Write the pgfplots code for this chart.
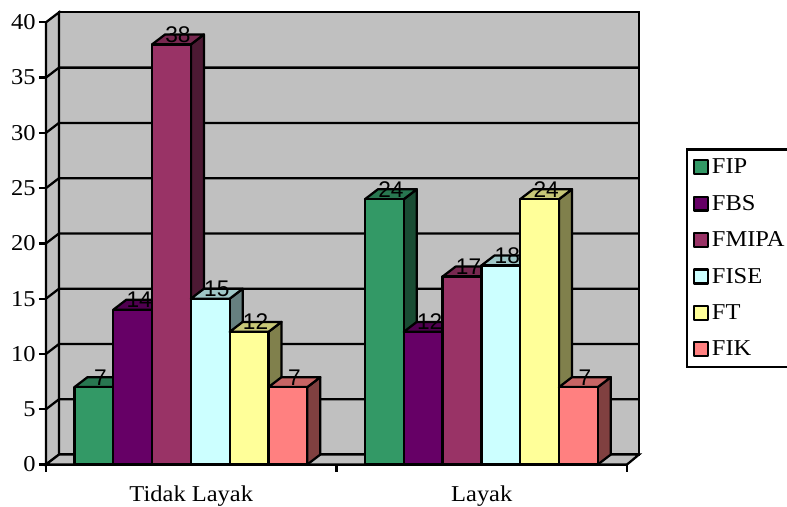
\documentclass[border=0pt]{standalone}
\usepackage{fontspec}
\setmainfont[FakeStretch=1.08]{Liberation Serif}
\newfontfamily\labelfont{Liberation Sans}
\usepackage{pgfplots}
\pgfplotsset{compat=1.18}

\definecolor{wall}{HTML}{C0C0C0}
\definecolor{fip}{HTML}{339966}
\definecolor{fbs}{HTML}{660066}
\definecolor{fmipa}{HTML}{993366}
\definecolor{fise}{HTML}{CCFFFF}
\definecolor{ft}{HTML}{FFFF99}
\definecolor{fik}{HTML}{FF8080}

% x axis runs in picture pixels, y in chart values
\newcommand{\bardepthx}{13}
\newcommand{\bardepthy}{0.9}
\newcommand{\barw}{38.8}
\newcommand{\lw}{1.7pt}

% #1 left edge, #2 value, #3 colour, #4 extra options of the front face
\newcommand{\cuboid}[4]{%
  \addplot[forget plot, draw=black, line width=\lw, line join=round, fill=#3!50!black]
    coordinates {(#1+\barw,0) (#1+\barw+\bardepthx,\bardepthy) (#1+\barw+\bardepthx,#2+\bardepthy) (#1+\barw,#2)} -- cycle;
  \addplot[forget plot, draw=black, line width=\lw, line join=round, fill=#3!78!black]
    coordinates {(#1,#2) (#1+\bardepthx,#2+\bardepthy) (#1+\barw+\bardepthx,#2+\bardepthy) (#1+\barw,#2)} -- cycle;
  \addplot[#4, draw=black, line width=\lw, line join=round, fill=#3]
    coordinates {(#1,0) (#1,#2) (#1+\barw,#2) (#1+\barw,0)} -- cycle;
}
\newcommand{\wallline}[1]{%
  \addplot[forget plot, black, line width=\lw] coordinates {(46,#1) (59,#1+\bardepthy) (639,#1+\bardepthy)};
}

\begin{document}
\begin{tikzpicture}
\useasboundingbox (0,0) rectangle (590.25pt,379.5pt);
\begin{axis}[
    at={(34.5pt,31.125pt)}, anchor=south west,
    scale only axis, width=435.75pt, height=331.65pt,
    xmin=46, xmax=627, ymin=0, ymax=40,
    clip=false,
    axis lines=left,
    axis line style={-, line width=\lw},
    every tick/.style={black, line width=\lw},
    tick align=outside, major tick length=5.25pt,
    xtick={46,336.5,627},
    xticklabels={Tidak Layak,Layak},
    x tick label as interval=true,
    ytick={0,5,...,40},
    /pgf/number format/assume math mode=true,
    tick label style={font=\fontsize{17}{20}\selectfont},
    y tick label style={xshift=1pt},
    x tick label style={yshift=-7pt},
    legend style={at={(axis cs:686,28.6)}, anchor=north west, draw=black, line width=\lw,
      font=\fontsize{17}{20}\selectfont, row sep=10.6pt, inner xsep=4.5pt, inner ysep=5pt},
    legend cell align=left,
    legend image code/.code={\draw[#1, line width=\lw] (0pt,-5.2pt) rectangle (10.4pt,5.2pt);},
]
% walls and floor
\addplot[forget plot, draw=black, line width=\lw, fill=wall]
  coordinates {(59,0.9) (59,40.9) (639,40.9) (639,0.9)} -- cycle;
\addplot[forget plot, draw=black, line width=\lw, fill=wall]
  coordinates {(46,0) (46,40) (59,40.9) (59,0.9)} -- cycle;
\addplot[forget plot, draw=black, line width=\lw, fill=wall]
  coordinates {(46,0) (59,0.9) (639,0.9) (627,0)} -- cycle;
\wallline{5}\wallline{10}\wallline{15}\wallline{20}\wallline{25}\wallline{30}\wallline{35}

% Tidak Layak
\cuboid{74.5}{7}{fip}{}    \addlegendentry{\makebox[90pt][l]{FIP}}
\cuboid{113.3}{14}{fbs}{}  \addlegendentry{\makebox[90pt][l]{FBS}}
\cuboid{152.1}{38}{fmipa}{}\addlegendentry{\makebox[90pt][l]{FMIPA}}
\cuboid{190.9}{15}{fise}{} \addlegendentry{\makebox[90pt][l]{FISE}}
\cuboid{229.7}{12}{ft}{}   \addlegendentry{\makebox[90pt][l]{FT}}
\cuboid{268.5}{7}{fik}{}   \addlegendentry{\makebox[90pt][l]{FIK}}

% Layak
\cuboid{365}{24}{fip}{forget plot}
\cuboid{403.8}{12}{fbs}{forget plot}
\cuboid{442.6}{17}{fmipa}{forget plot}
\cuboid{481.4}{18}{fise}{forget plot}
\cuboid{520.2}{24}{ft}{forget plot}
\cuboid{559}{7}{fik}{forget plot}

% value labels
\addplot[forget plot, draw=none, nodes near coords, point meta=y,
  every node near coord/.append style={anchor=base, yshift=1.5pt, inner sep=0pt, text=black,
    font=\labelfont\fontsize{17}{20}\selectfont}]
  coordinates {(100.4,7) (139.2,14) (178,38) (216.8,15) (255.6,12) (294.4,7)
               (390.9,24) (429.7,12) (468.5,17) (507.3,18) (546.1,24) (584.9,7)};
\end{axis}
\end{tikzpicture}
\end{document}
